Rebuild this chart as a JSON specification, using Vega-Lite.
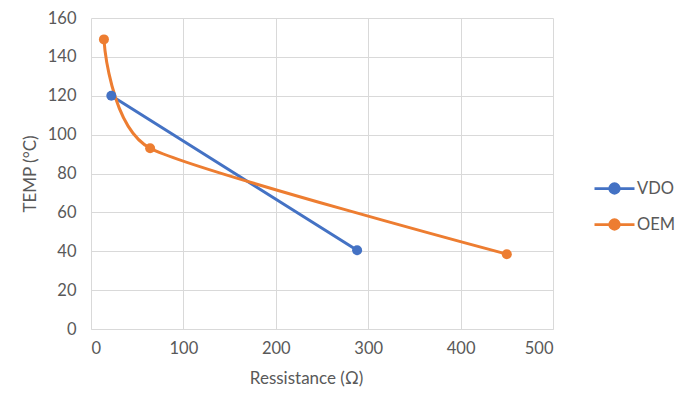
{
  "$schema": "https://vega.github.io/schema/vega-lite/v6.json",
  "width": 462,
  "height": 311,
  "autosize": "none",
  "padding": {"left": 91, "top": 18, "right": 132, "bottom": 69},
  "background": "white",
  "config": {
    "font": "Lato",
    "view": {"stroke": null},
    "axis": {
      "labelColor": "#595959",
      "titleColor": "#595959",
      "labelFont": "Lato",
      "titleFont": "Lato",
      "labelFontSize": 16.5,
      "titleFontSize": 17,
      "titleFontWeight": "normal",
      "gridColor": "#D9D9D9",
      "gridWidth": 1,
      "domainColor": "#D9D9D9",
      "ticks": false
    }
  },
  "data": {
    "values": [
      {"series": "VDO", "r": 22, "t": 120, "o": 1},
      {"series": "VDO", "r": 288, "t": 40.5, "o": 2},
      {"series": "OEM", "r": 14, "t": 149, "o": 1},
      {"series": "OEM", "r": 64, "t": 93, "o": 2},
      {"series": "OEM", "r": 450, "t": 38.5, "o": 3}
    ]
  },
  "encoding": {
    "x": {
      "field": "r",
      "type": "quantitative",
      "scale": {"domain": [0, 500], "nice": false},
      "axis": {"values": [0, 100, 200, 300, 400, 500], "title": "Ressistance (Ω)", "labelPadding": 11, "titlePadding": 14, "titleX": 215, "domain": true, "domainColor": "#D9D9D9"}
    },
    "y": {
      "field": "t",
      "type": "quantitative",
      "scale": {"domain": [0, 160], "nice": false},
      "axis": {"values": [0, 20, 40, 60, 80, 100, 120, 140, 160], "title": "TEMP (°C)", "labelPadding": 15, "titlePadding": 8, "domain": false}
    },
    "color": {
      "field": "series",
      "type": "nominal",
      "scale": {"domain": ["VDO", "OEM"], "range": ["#4472C4", "#ED7D31"]},
      "legend": {
        "title": null,
        "orient": "none",
        "legendX": 502,
        "legendY": 149,
        "symbolType": "M-1,0L1,0M-0.24,0A0.24,0.24 0 1,1 0.24,0A0.24,0.24 0 1,1 -0.24,0Z",
        "symbolSize": 1600,
        "symbolStrokeWidth": 2.75,
        "labelFontSize": 16.5,
        "labelFont": "Lato",
        "labelColor": "#595959",
        "labelOffset": 1,
        "rowPadding": 4,
        "encode": {"symbols": {"update": {"fill": {"scale": "color", "field": "value"}, "fillOpacity": {"value": 1}}}}
      }
    }
  },
  "layer": [
    {
      "mark": {"type": "line", "interpolate": "cardinal", "tension": 0.4, "strokeWidth": 3, "strokeCap": "round"},
      "encoding": {"order": {"field": "o", "type": "quantitative"}}
    },
    {
      "mark": {"type": "point", "filled": true, "size": 100, "opacity": 1},
      "encoding": {"shape": {"value": "circle"}}
    }
  ]
}
